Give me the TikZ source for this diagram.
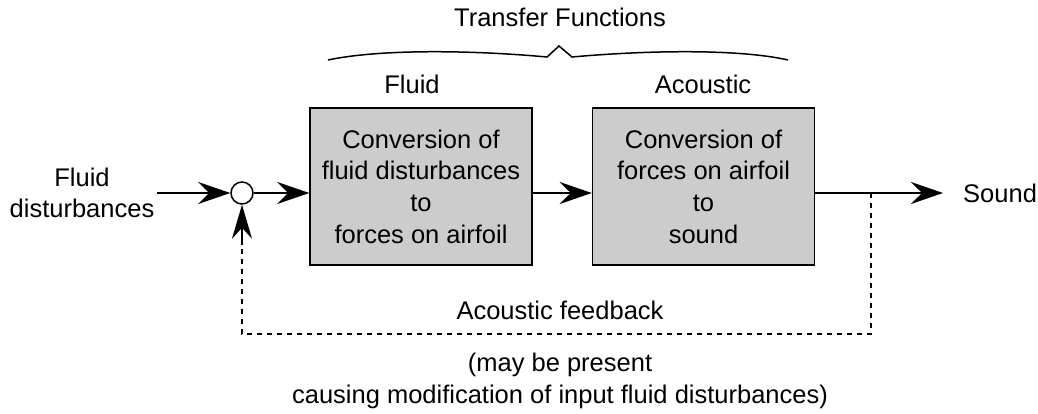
\documentclass[tikz,border=0pt]{standalone}
\usepackage{fontspec}
\setmainfont{Liberation Sans}
\usetikzlibrary{arrows.meta}
\begin{document}
\begin{tikzpicture}[x=1pt,y=-1pt,
  txt/.style={font=\fontsize{25.5}{31.5}\selectfont, inner sep=0pt, align=center},
  blk/.style={draw, line width=1.5pt, fill=black!20, minimum width=222pt, minimum height=157pt, inner sep=0pt, font=\fontsize{25.5}{31.7}\selectfont, align=center},
  arr/.style={line width=1.5pt, -{Stealth[length=32pt,width=22pt,inset=11pt]}},
  dsh/.style={line width=1.5pt, dash pattern=on 5pt off 5pt}]
\useasboundingbox (0,0) rectangle (1038,414);
\node[blk] (b1) at (421,186.5) {Conversion of\\fluid disturbances\\to\\forces on airfoil};
\node[blk] (b2) at (703.5,186.5) {Conversion of\\forces on airfoil\\to\\sound};
\node[draw, circle, line width=1.5pt, minimum size=22pt, inner sep=0pt, fill=white] (c) at (242,193) {};
\node[txt] (in) at (82,193) {Fluid\\disturbances};
\node[txt, anchor=west] (snd) at (963,193) {Sound};
\node[txt] (fl) at (412,84) {Fluid};
\node[txt] (ac) at (703,84) {Acoustic};
\node[txt] (tf) at (560,17.5) {Transfer Functions};
\node[txt] (afb) at (560,310) {Acoustic feedback};
\node[txt] (note) at (560,381) {(may be present\\causing modification of input fluid disturbances)};
\coordinate (instart) at (157,193);
\coordinate (outend) at (943,193);
\coordinate (tap) at (871,193);
\coordinate (dr) at (871,334);
\coordinate (dl) at (242,334);
\draw[arr] (instart) -- (c.west);
\draw[arr] (c.east) -- (b1.west |- c.east);
\draw[arr] (b1.east |- c.east) -- (b2.west |- c.east);
\draw[arr] (b2.east |- c.east) -- (outend);
\draw[dsh] (tap) -- (dr) -- (dl) -- (c.south);
\draw[line width=1.5pt, -{Stealth[length=34pt,width=20pt,inset=11pt]}] (242,245) -- (c.south);
\coordinate (bl) at (328,60);
\coordinate (br) at (788,60);
\coordinate (bt) at (559,46);
\draw[line width=1.5pt, line join=miter] (bl) .. controls (380,49) and (470,50) .. (547,57) -- (bt) -- (572,57) .. controls (650,50) and (740,49) .. (br);
\end{tikzpicture}
\end{document}
